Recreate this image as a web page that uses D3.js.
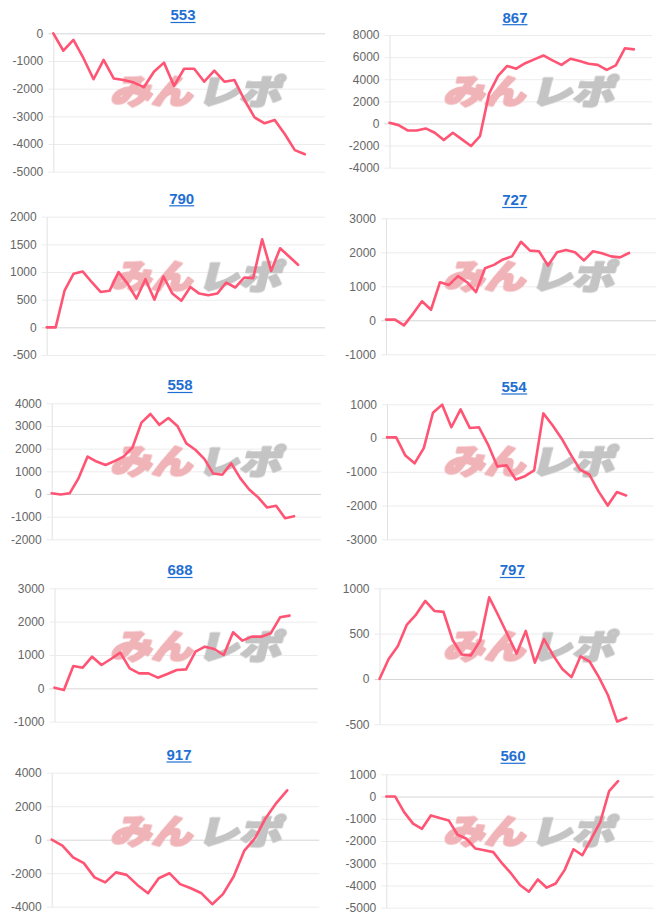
<!DOCTYPE html>
<html><head><meta charset="utf-8">
<script src="https://cdn.jsdelivr.net/npm/d3@7"></script>
<style>
html,body{margin:0;padding:0;background:#fff;}
svg{display:block;}
</style></head><body>
<svg id="chart" width="666" height="922"></svg>
<script>
// ---- data ----
const titles = ["553","867","790","727","558","554","688","797","917","560"];

const s553 = [0,-630,-240,-900,-1660,-960,-1630,-1690,-1780,-1950,-1390,-1060,-1900,-1280,-1280,-1750,-1350,-1750,-1690,-2410,-3040,-3250,-3130,-3640,-4220,-4370];
const s867 = [60,-150,-630,-630,-450,-840,-1500,-840,-1440,-2040,-1140,2700,4300,5200,4950,5450,5800,6150,5700,5300,5850,5650,5400,5300,4850,5250,6800,6700];
const s790 = [0,0,670,970,1010,820,640,660,1000,790,520,870,500,920,610,480,730,610,580,610,810,720,900,890,1590,1020,1430,1280,1130];
const s727 = [20,20,-150,190,560,310,1120,1040,1300,1120,830,1530,1630,1790,1880,2310,2050,2030,1610,2000,2070,2000,1760,2030,1970,1880,1850,1980];
const s558 = [30,-20,30,700,1650,1430,1280,1450,1650,2050,3150,3530,3050,3350,3000,2230,1950,1550,900,850,1350,700,200,-150,-600,-520,-1070,-980];
const s554 = [20,20,-520,-750,-300,750,990,320,850,300,320,-200,-840,-810,-1230,-1130,-960,730,380,-20,-500,-940,-1080,-1580,-2000,-1600,-1700];
const s688 = [20,-50,670,620,950,700,880,1070,600,450,450,320,430,550,570,1100,1250,1180,1000,1680,1430,1550,1550,1650,2130,2180];
const s797 = [0,220,360,600,710,860,750,740,430,270,260,420,900,700,490,280,530,180,440,260,110,20,250,190,20,-180,-470,-430];
const s917 = [0,-350,-1050,-1400,-2250,-2550,-1950,-2100,-2700,-3200,-2300,-2000,-2650,-2900,-3200,-3850,-3250,-2200,-650,100,1300,2200,2950];
const s560 = [0,0,-700,-1220,-1450,-850,-970,-1075,-1720,-1900,-2340,-2420,-2500,-3010,-3460,-3980,-4280,-3730,-4100,-3910,-3310,-2370,-2640,-1900,-1150,240,690];
const series = [s553,s867,s790,s727,s558,s554,s688,s797,s917,s560];

// number of x category slots on each panel's axis
const xSlots = [28,30,32,31,31,30,29,31,26,31];

const ticks553 = [0,-1000,-2000,-3000,-4000,-5000];
const ticks867 = [8000,6000,4000,2000,0,-2000,-4000];
const ticks790 = [2000,1500,1000,500,0,-500];
const ticks727 = [3000,2000,1000,0,-1000];
const ticks558 = [4000,3000,2000,1000,0,-1000,-2000];
const ticks554 = [1000,0,-1000,-2000,-3000];
const ticks688 = [3000,2000,1000,0,-1000];
const ticks797 = [1000,500,0,-500];
const ticks917 = [4000,2000,0,-2000,-4000];
const ticks560 = [1000,0,-1000,-2000,-3000,-4000,-5000];
const yTicks = [ticks553,ticks867,ticks790,ticks727,ticks558,ticks554,ticks688,ticks797,ticks917,ticks560];

// ---- layout (pixels) ----
const layout = [
  {l:53.3, r:325,   t:33.3,  b:171.7, tx:183,   ty:15},
  {l:389.5,r:652,   t:35,    b:167.7, tx:515,   ty:17.2},
  {l:46.7, r:325,   t:216.7, b:355,   tx:181.7, ty:198.3},
  {l:386,  r:656,   t:218.3, b:354.3, tx:514.7, ty:200},
  {l:51.7, r:321,   t:403.3, b:539.3, tx:180,   ty:385},
  {l:387,  r:653.7, t:404.3, b:539.3, tx:514,   ty:386.5},
  {l:54.5, r:317.7, t:588.3, b:721.7, tx:180,   ty:570},
  {l:379.5,r:653.7, t:588.3, b:724.3, tx:512.3, ty:570},
  {l:51.7, r:319.3, t:772.7, b:906.7, tx:179,   ty:754.5},
  {l:386.3,r:653.7, t:774.3, b:907.7, tx:513,   ty:755.8}
];

const svg = d3.select("#chart");
const FONT = "'Liberation Sans', Arial, Helvetica, sans-serif";

const defs = svg.append("defs");
defs.append("filter").attr("id", "wmblur").attr("x", "-10%").attr("y", "-20%").attr("width", "120%").attr("height", "140%")
  .append("feGaussianBlur").attr("stdDeviation", 0.7);

series.forEach((vals, i) => {
  const L = layout[i];
  const ticks = yTicks[i];
  const g = svg.append("g");
  const y = d3.scaleLinear().domain(d3.extent(ticks)).range([L.b, L.t]);
  const x = d3.scaleLinear().domain([0, xSlots[i]-1]).range([L.l, L.r]);
  const w = L.r - L.l;

  // gridlines
  const grid = g.append("g").attr("transform", `translate(${L.l},0)`)
    .call(d3.axisLeft(y).tickValues(ticks).tickSize(-w).tickSizeOuter(0).tickFormat(""));
  grid.select(".domain").remove();
  grid.selectAll(".tick line").attr("stroke", d => d === 0 ? "#d6d6d6" : "#ececec").attr("stroke-width", 1);

  // axis with labels
  const ax = g.append("g").attr("transform", `translate(${L.l},0)`)
    .call(d3.axisLeft(y).tickValues(ticks).tickSize(5).tickSizeOuter(0).tickPadding(5).tickFormat(d => String(d)));
  ax.select(".domain").attr("stroke", "#e2e2e2");
  ax.selectAll(".tick line").attr("stroke", d => d === 0 ? "#d6d6d6" : "#ececec");
  ax.selectAll(".tick text").attr("fill", "#666").style("font-family", FONT).style("font-size", "12px");

  // watermark
  const cx = (i % 2) * 333 + 197, cy = Math.floor(i / 2) * 185 + 92;
  const wm = g.append("g").attr("transform", `translate(${cx},${cy}) skewX(-14)`).attr("filter", "url(#wmblur)");
  wm.append("text").attr("x", -2).attr("y", 12).attr("text-anchor", "end")
    .attr("textLength", 82).attr("lengthAdjust", "spacingAndGlyphs")
    .style("font-family", "'Noto Sans CJK JP', sans-serif").style("font-weight", 900).style("font-size", "33px")
    .attr("fill", "#f0b3b7").attr("stroke", "#f0b3b7").attr("stroke-width", 2.2).attr("stroke-linejoin", "round")
    .text("みん");
  wm.append("text").attr("x", 3).attr("y", 12).attr("text-anchor", "start")
    .attr("textLength", 84).attr("lengthAdjust", "spacingAndGlyphs")
    .style("font-family", "'Noto Sans CJK JP', sans-serif").style("font-weight", 900).style("font-size", "33px")
    .attr("fill", "#c4c4c4").attr("stroke", "#c4c4c4").attr("stroke-width", 2.2).attr("stroke-linejoin", "round")
    .text("レポ");

  // line
  const line = d3.line().defined(d => d != null).x((d, j) => x(j)).y(d => y(d));
  g.append("path").datum(vals).attr("d", line)
    .attr("fill", "none").attr("stroke", "#ff5474").attr("stroke-width", 2.6)
    .attr("stroke-linejoin", "round").attr("stroke-linecap", "round");

  // title
  const tt = g.append("text").attr("x", L.tx).attr("y", L.ty).attr("dy", "0.36em")
    .attr("text-anchor", "middle").attr("fill", "#1f6fd2")
    .style("font-family", FONT).style("font-weight", "bold").style("font-size", "15px")
    .text(titles[i]);
  const bb = tt.node().getBBox();
  g.append("line").attr("x1", bb.x).attr("x2", bb.x + bb.width)
    .attr("y1", L.ty + 7.5).attr("y2", L.ty + 7.5)
    .attr("stroke", "#1f6fd2").attr("stroke-width", 1.2);
});
</script>
</body></html>
